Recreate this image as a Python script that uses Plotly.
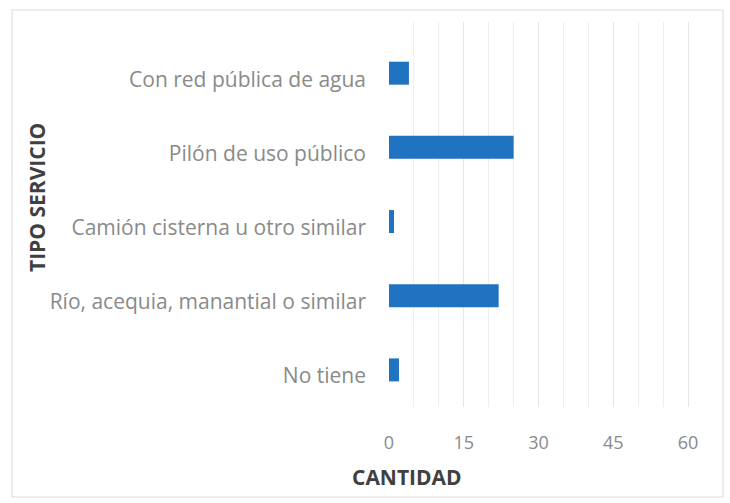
import plotly.graph_objects as go

# Water supply service type vs. number of households
categorias = [
    "Con red pública de agua",
    "Pilón de uso público",
    "Camión cisterna u otro similar",
    "Río, acequia, manantial o similar",
    "No tiene",
]
cantidad = [4, 25, 1, 22, 2]
ticks_x = [0, 15, 30, 45, 60]

W, H = 730, 503
M_L, M_R, M_T, M_B = 389, 17, 22, 96
PW, PH = W - M_L - M_R, H - M_T - M_B


def px_x(px):
    return (px - M_L) / PW


def px_y(py):
    return (H - M_B - py) / PH


fig = go.Figure(
    go.Bar(
        x=cantidad,
        y=categorias,
        orientation="h",
        marker=dict(color="#1f73c0", line=dict(width=0)),
        width=0.31,
    )
)

fig.update_layout(
    width=W,
    height=H,
    margin=dict(l=M_L, r=M_R, t=M_T, b=M_B),
    paper_bgcolor="white",
    plot_bgcolor="white",
    showlegend=False,
    font=dict(family="Open Sans", color="#8a8a8a"),
    xaxis=dict(
        range=[0, 65],
        tickvals=ticks_x,
        ticktext=[str(t) for t in ticks_x],
        tickfont=dict(size=18, color="#8a8a8a"),
        showgrid=True,
        gridcolor="#e6e6e6",
        gridwidth=1,
        minor=dict(dtick=5, showgrid=True, gridcolor="#eeeeee", gridwidth=1),
        zeroline=False,
        showline=False,
        ticks="",
        ticklabelstandoff=23,
        fixedrange=True,
    ),
    yaxis=dict(
        categoryorder="array",
        categoryarray=categorias[::-1],
        range=[-0.5, 4.69],
        tickfont=dict(size=21, color="#8a8a8a"),
        showgrid=False,
        zeroline=False,
        showline=False,
        ticks="",
        ticklabelstandoff=22,
        ticklabelshift=6,
        fixedrange=True,
    ),
)

# Outer chart border
fig.add_shape(
    type="rect",
    xref="paper",
    yref="paper",
    x0=px_x(12),
    x1=px_x(723),
    y0=px_y(497),
    y1=px_y(10),
    line=dict(color="#d9d9d9", width=1),
    fillcolor="rgba(0,0,0,0)",
    layer="below",
)

# Axis titles
fig.add_annotation(
    text="<b>CANTIDAD</b>",
    xref="paper",
    yref="paper",
    x=px_x(350),
    y=px_y(477),
    xanchor="left",
    yanchor="middle",
    showarrow=False,
    font=dict(family="Open Sans", size=21, color="#404040"),
)
fig.add_annotation(
    text="<b>TIPO SERVICIO</b>",
    xref="paper",
    yref="paper",
    x=px_x(37),
    y=px_y(198),
    xanchor="center",
    yanchor="middle",
    textangle=-90,
    showarrow=False,
    font=dict(family="Open Sans", size=21, color="#404040"),
)

fig.write_html("out.html")
